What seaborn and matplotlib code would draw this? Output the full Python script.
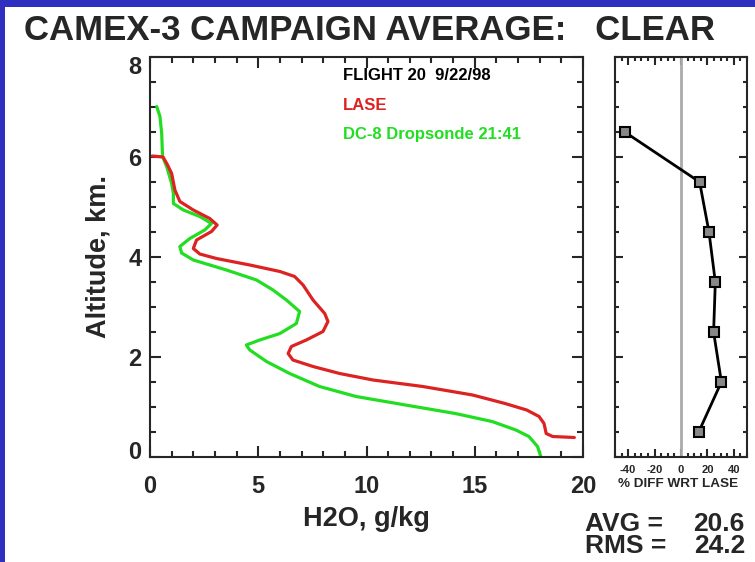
import numpy as np
import pandas as pd
import seaborn as sns
import matplotlib.pyplot as plt
import matplotlib.transforms as mtransforms
from matplotlib.patches import Rectangle
from matplotlib.ticker import MultipleLocator

# LASE profile (H2O g/kg vs altitude km)
lase_h2o = [0.1, 0.6, 0.8, 1.0, 1.15, 1.38, 2.0, 2.76, 3.1, 2.84, 2.15, 2.0, 2.3, 3.07,
            4.61, 6.0, 6.68, 7.07, 7.53, 8.07, 8.22, 7.99, 7.22, 6.53, 6.38, 6.6, 7.53,
            8.76, 10.3, 12.6, 14.9, 16.4, 17.4, 17.97, 18.2, 18.3, 18.6, 19.6]
lase_alt = [6.02, 6.0, 5.85, 5.67, 5.34, 5.11, 4.94, 4.77, 4.64, 4.51, 4.34, 4.17, 4.06, 3.97,
            3.84, 3.71, 3.61, 3.44, 3.14, 2.87, 2.71, 2.51, 2.34, 2.21, 2.07, 1.94, 1.81,
            1.67, 1.54, 1.41, 1.24, 1.07, 0.94, 0.81, 0.67, 0.47, 0.41, 0.39]

# DC-8 dropsonde profile
drop_h2o = [0.31, 0.46, 0.54, 0.58, 0.77, 1.0, 1.08, 1.08, 1.54, 2.3, 2.84, 2.53, 1.84, 1.38,
            1.46, 2.0, 3.53, 4.92, 5.68, 6.3, 6.91, 6.76, 6.0, 5.07, 4.45, 4.61, 5.38, 6.45,
            7.83, 9.52, 11.8, 14.1, 15.8, 16.9, 17.5, 17.9, 18.05]
drop_alt = [7.01, 6.81, 6.47, 6.01, 5.81, 5.47, 5.27, 5.07, 4.94, 4.81, 4.67, 4.54, 4.37, 4.21,
            4.08, 3.94, 3.74, 3.54, 3.34, 3.14, 2.91, 2.67, 2.47, 2.34, 2.24, 2.14, 1.91, 1.67,
            1.41, 1.21, 1.04, 0.87, 0.71, 0.54, 0.41, 0.21, 0.01]

# percent difference wrt LASE
diff_alt = [6.5, 5.5, 4.5, 3.5, 2.5, 1.5, 0.5]
diff_pct = [-42.6, 14.1, 21.2, 26.0, 24.7, 30.6, 13.4]

avg_val = 20.6
rms_val = 24.2

sns.set_style("ticks")
plt.rcParams["font.family"] = ["Liberation Sans", "DejaVu Sans"]
plt.rcParams["font.weight"] = "bold"
plt.rcParams["axes.unicode_minus"] = False

fig = plt.figure(figsize=(7.55, 5.62), dpi=100)
fig.patch.set_facecolor("#2f2fc0")
fig.add_artist(Rectangle((5 / 755, 0), 1, (562 - 7) / 562, transform=fig.transFigure,
                         facecolor="white", edgecolor="none", zorder=-1))

ax = fig.add_axes([150 / 755, 105 / 562, 433 / 755, 400 / 562])
ax2 = fig.add_axes([615 / 755, 105 / 562, 132 / 755, 400 / 562])

lase = pd.DataFrame({"h2o": lase_h2o, "alt": lase_alt})
drop = pd.DataFrame({"h2o": drop_h2o, "alt": drop_alt})
sns.lineplot(data=drop, x="h2o", y="alt", sort=False, estimator=None,
             color="#22dd22", lw=2.3, ax=ax)
sns.lineplot(data=lase, x="h2o", y="alt", sort=False, estimator=None,
             color="#dd2222", lw=2.3, ax=ax)

ax.set_xlim(0, 20)
ax.set_ylim(0, 8)
ax.xaxis.set_major_locator(MultipleLocator(5))
ax.xaxis.set_minor_locator(MultipleLocator(1))
ax.yaxis.set_major_locator(MultipleLocator(2))
ax.yaxis.set_minor_locator(MultipleLocator(0.5))
ax.tick_params(which="both", direction="in", top=True, right=True, width=1.5, labelsize=17)
ax.tick_params(axis="x", which="major", pad=13)
ax.tick_params(axis="y", which="major", pad=6)
ax.tick_params(which="major", length=8)
ax.tick_params(which="minor", length=4)
ax.set_xlabel("H2O, g/kg", fontsize=19.5, fontweight="bold", labelpad=6)
ax.set_ylabel("Altitude, km.", fontsize=19.5, fontweight="bold", labelpad=12)
for s in ax.spines.values():
    s.set_linewidth(1.5)

# end labels sit just inside the axis range, as in the original
fig.canvas.draw()
for t in ax.yaxis.get_major_ticks():
    y = t.get_loc()
    if abs(y - 0) < 1e-6:
        off = mtransforms.ScaledTranslation(0, 7 / 100, fig.dpi_scale_trans)
        t.label1.set_transform(t.label1.get_transform() + off)
    elif abs(y - 8) < 1e-6:
        off = mtransforms.ScaledTranslation(0, -8 / 100, fig.dpi_scale_trans)
        t.label1.set_transform(t.label1.get_transform() + off)

ax.text(0.445, 0.955, "FLIGHT 20  9/22/98", transform=ax.transAxes, fontsize=12,
        color="black", va="center")
ax.text(0.445, 0.88, "LASE", transform=ax.transAxes, fontsize=12, color="#dd2222", va="center")
ax.text(0.445, 0.805, "DC-8 Dropsonde 21:41", transform=ax.transAxes, fontsize=12,
        color="#22dd22", va="center")

# right panel
ax2.axvline(0, color="#aaaaaa", lw=2, zorder=1)
diff = pd.DataFrame({"pct": diff_pct, "alt": diff_alt})
sns.lineplot(data=diff, x="pct", y="alt", sort=False, estimator=None, color="black",
             lw=2, marker="s", markersize=7, markerfacecolor="#888888",
             markeredgecolor="black", markeredgewidth=1.5, ax=ax2)
ax2.set_xlim(-50, 50)
ax2.set_ylim(0, 8)
ax2.xaxis.set_major_locator(MultipleLocator(20))
ax2.xaxis.set_minor_locator(MultipleLocator(5))
ax2.yaxis.set_major_locator(MultipleLocator(2))
ax2.yaxis.set_minor_locator(MultipleLocator(0.5))
ax2.tick_params(which="both", direction="in", top=True, right=True, width=1.5, labelsize=8, pad=6)
ax2.tick_params(which="major", length=6)
ax2.tick_params(which="minor", length=3)
ax2.set_yticklabels([])
ax2.set_ylabel("")
ax2.set_xlabel("% DIFF WRT LASE", fontsize=9.7, fontweight="bold")
ax2.xaxis.set_label_coords(0.48, -0.052)
for s in ax2.spines.values():
    s.set_linewidth(1.5)

fig.text(369 / 755, 1 - 31 / 562, "CAMEX-3 CAMPAIGN AVERAGE:   CLEAR", fontsize=25,
         fontweight="bold", ha="center", va="center")
fig.text(585 / 755, 1 - 524 / 562, "AVG =", fontsize=19, fontweight="bold", va="center")
fig.text(745 / 755, 1 - 524 / 562, f"{avg_val:.1f}", fontsize=19, fontweight="bold",
         va="center", ha="right")
fig.text(585 / 755, 1 - 546 / 562, "RMS =", fontsize=19, fontweight="bold", va="center")
fig.text(745 / 755, 1 - 546 / 562, f"{rms_val:.1f}", fontsize=19, fontweight="bold",
         va="center", ha="right")

fig.savefig("out.png", dpi=100, facecolor=fig.get_facecolor())
